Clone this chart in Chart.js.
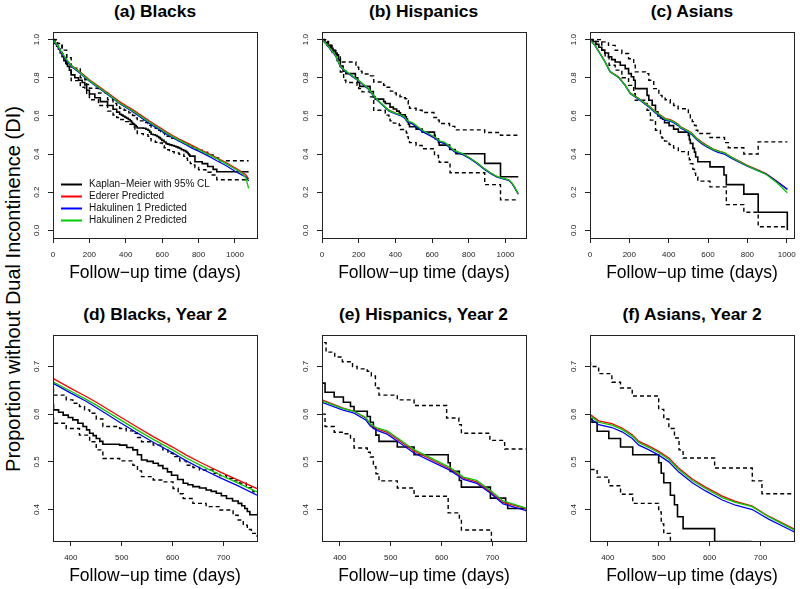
<!DOCTYPE html>
<html><head><meta charset="utf-8">
<script src="https://cdn.jsdelivr.net/npm/chart.js@4/dist/chart.umd.min.js"></script>
<style>
html,body{margin:0;padding:0;background:#fff;width:800px;height:589px;overflow:hidden;font-family:"Liberation Sans",Arial,sans-serif;}
canvas{position:absolute;}
.ttl{position:absolute;font-weight:bold;font-size:17.4px;white-space:nowrap;transform:translate(-50%,-50%);line-height:1;color:#000;}
#ylab{position:absolute;left:12.5px;top:289px;font-size:20px;white-space:nowrap;transform:translate(-50%,-50%) rotate(-90deg);line-height:1;color:#000;}
</style></head><body>
<div id="ylab">Proportion without Dual Incontinence (DI)</div>
<script>
const FONT = '"Liberation Sans", Arial, sans-serif';

// ---- tick labels ----
const xTicksFull = [0, 200, 400, 600, 800, 1000];
const xTicksYear2 = [400, 500, 600, 700];
const yTicksFull = [0.0, 0.2, 0.4, 0.6, 0.8, 1.0];
const yTicksYear2 = [0.4, 0.5, 0.6, 0.7];

const panelTitles = ["(a) Blacks", "(b) Hispanics", "(c) Asians",
                     "(d) Blacks, Year 2", "(e) Hispanics, Year 2", "(f) Asians, Year 2"];
const legendLabels = ["Kaplan\u2212Meier with 95% CL", "Ederer Predicted", "Hakulinen 1 Predicted", "Hakulinen 2 Predicted"];
const xTitle = "Follow\u2212up time (days)";

// ---- Blacks ----
const blkKM = [[0,1.0],[10,0.98],[20,0.965],[30,0.95],[40,0.93],[50,0.91],[60,0.89],[70,0.875],[80,0.86],[90,0.84],[100,0.815],[120,0.80],[140,0.787],[160,0.775],[175,0.762],[185,0.735],[200,0.715],[230,0.695],[260,0.675],[300,0.655],[330,0.635],[350,0.62],[366,0.609],[376,0.604],[385,0.598],[395,0.593],[404,0.588],[414,0.581],[424,0.574],[431,0.567],[437,0.56],[444,0.555],[450,0.549],[457,0.543],[463,0.537],[496,0.535],[510,0.53],[522,0.525],[531,0.515],[539,0.504],[550,0.501],[562,0.497],[572,0.492],[581,0.486],[590,0.479],[598,0.472],[610,0.463],[621,0.455],[630,0.452],[640,0.448],[653,0.445],[666,0.441],[676,0.438],[686,0.434],[696,0.429],[706,0.423],[718,0.418],[729,0.413],[736,0.408],[742,0.402],[747,0.396],[752,0.389],[780,0.36],[820,0.35],[850,0.335],[880,0.32],[900,0.307],[1075,0.307]];
const blkUp = [[0,1.0],[25,0.98],[50,0.945],[75,0.905],[100,0.85],[150,0.80],[175,0.79],[185,0.765],[200,0.745],[250,0.72],[300,0.685],[330,0.665],[350,0.652],[366,0.64],[391,0.63],[404,0.623],[417,0.616],[427,0.609],[437,0.602],[450,0.59],[463,0.574],[496,0.57],[509,0.565],[522,0.56],[531,0.551],[539,0.542],[562,0.535],[581,0.525],[591,0.518],[601,0.511],[614,0.502],[627,0.493],[640,0.488],[653,0.483],[680,0.476],[693,0.471],[706,0.465],[719,0.46],[732,0.455],[745,0.446],[758,0.437],[790,0.42],[820,0.41],[850,0.395],[880,0.38],[910,0.365],[1075,0.365]];
const blkLo = [[0,1.0],[25,0.97],[50,0.925],[75,0.87],[100,0.785],[150,0.75],[175,0.735],[185,0.71],[200,0.685],[250,0.655],[300,0.625],[330,0.605],[350,0.592],[366,0.581],[391,0.57],[417,0.556],[437,0.542],[450,0.525],[463,0.507],[496,0.502],[522,0.493],[531,0.481],[539,0.469],[562,0.462],[581,0.458],[601,0.444],[611,0.433],[621,0.423],[640,0.413],[666,0.406],[693,0.399],[719,0.388],[729,0.378],[739,0.367],[747,0.358],[755,0.35],[766,0.343],[780,0.33],[800,0.318],[840,0.305],[870,0.29],[900,0.265],[1075,0.265]];
const blkT    = [0,25,50,75,100,150,200,250,300,365,400,430,450,496,530,562,600,627,660,693,730,766,800,850,900,950,1000,1040,1060,1075];
const blkEder = [1.0,0.965,0.925,0.893,0.866,0.83,0.79,0.756,0.722,0.675,0.654,0.637,0.625,0.595,0.573,0.553,0.531,0.514,0.496,0.479,0.461,0.444,0.428,0.405,0.38,0.355,0.328,0.305,0.29,0.27];
const blkHak1 = [1.0,0.965,0.925,0.89,0.86,0.822,0.782,0.746,0.712,0.665,0.644,0.627,0.614,0.583,0.561,0.541,0.519,0.502,0.484,0.467,0.449,0.43,0.415,0.392,0.365,0.34,0.31,0.29,0.28,0.26];
const blkHak2 = [1.0,0.968,0.93,0.895,0.864,0.826,0.785,0.75,0.716,0.668,0.648,0.631,0.619,0.589,0.567,0.547,0.525,0.508,0.49,0.473,0.455,0.437,0.423,0.400,0.376,0.35,0.322,0.298,0.275,0.22];

// ---- Hispanics ----
const hisKM = [[0,1.0],[15,0.985],[30,0.97],[45,0.955],[60,0.94],[75,0.92],[90,0.895],[100,0.862],[115,0.835],[130,0.822],[182,0.80],[195,0.775],[205,0.755],[262,0.728],[280,0.70],[290,0.688],[336,0.675],[345,0.665],[371,0.646],[389,0.636],[407,0.625],[421,0.616],[428,0.606],[454,0.595],[460,0.583],[466,0.57],[471,0.556],[477,0.543],[513,0.531],[546,0.515],[613,0.498],[617,0.48],[635,0.461],[639,0.447],[696,0.424],[726,0.414],[730,0.402],[887,0.351],[973,0.281],[1070,0.281]];
const hisUp = [[0,1.0],[20,0.99],[36,0.98],[50,0.96],[64,0.944],[82,0.918],[100,0.883],[185,0.855],[200,0.835],[218,0.82],[264,0.81],[282,0.778],[336,0.761],[355,0.75],[373,0.73],[390,0.72],[405,0.71],[425,0.70],[434,0.695],[454,0.69],[462,0.68],[470,0.655],[477,0.64],[513,0.63],[546,0.618],[610,0.592],[634,0.578],[639,0.56],[695,0.545],[724,0.527],[887,0.513],[973,0.499],[1070,0.499]];
const hisLo = [[0,1.0],[27,0.97],[55,0.935],[82,0.89],[100,0.83],[118,0.787],[130,0.775],[191,0.76],[200,0.743],[218,0.726],[264,0.70],[282,0.63],[345,0.615],[355,0.604],[365,0.60],[371,0.574],[389,0.562],[407,0.559],[421,0.55],[428,0.529],[454,0.52],[460,0.51],[466,0.49],[471,0.475],[477,0.46],[513,0.445],[546,0.428],[613,0.393],[635,0.379],[639,0.357],[698,0.302],[887,0.24],[973,0.16],[1070,0.16]];
const hisT    = [0,25,50,75,100,125,150,200,250,300,340,365,405,428,451,460,473,493,519,545,578,617,643,669,695,721,763,809,850,882,920,955,1018,1036,1050,1070];
const hisEder = [1.0,0.975,0.945,0.915,0.86,0.837,0.82,0.785,0.745,0.685,0.65,0.63,0.613,0.606,0.592,0.578,0.569,0.562,0.543,0.523,0.506,0.485,0.466,0.458,0.438,0.415,0.403,0.377,0.35,0.325,0.30,0.281,0.264,0.246,0.225,0.19];
const hisHak1 = [1.0,0.975,0.944,0.914,0.859,0.835,0.818,0.783,0.743,0.683,0.648,0.625,0.609,0.602,0.588,0.575,0.566,0.558,0.539,0.519,0.502,0.482,0.463,0.455,0.435,0.412,0.399,0.374,0.347,0.322,0.297,0.279,0.262,0.245,0.224,0.19];
const hisHak2 = [1.0,0.976,0.946,0.916,0.861,0.838,0.821,0.786,0.746,0.686,0.651,0.628,0.612,0.606,0.593,0.58,0.571,0.565,0.546,0.526,0.509,0.488,0.468,0.461,0.441,0.418,0.404,0.378,0.351,0.326,0.301,0.282,0.265,0.248,0.227,0.19];

// ---- Asians ----
const asiKM = [[0,1.0],[15,0.99],[30,0.975],[45,0.96],[60,0.945],[75,0.93],[94,0.91],[110,0.895],[128,0.883],[154,0.866],[179,0.848],[196,0.822],[210,0.805],[222,0.787],[230,0.743],[290,0.708],[299,0.682],[316,0.656],[333,0.621],[345,0.60],[358,0.59],[369,0.583],[379,0.564],[402,0.549],[425,0.531],[449,0.515],[500,0.498],[505,0.476],[510,0.456],[523,0.43],[531,0.41],[537,0.385],[548,0.36],[610,0.333],[681,0.29],[693,0.24],[782,0.19],[855,0.095],[1003,0.0]];
const asiUp = [[0,1.0],[60,0.988],[94,0.97],[128,0.944],[162,0.927],[196,0.90],[222,0.866],[230,0.831],[282,0.822],[299,0.787],[324,0.743],[350,0.708],[366,0.70],[382,0.685],[408,0.667],[425,0.655],[448,0.638],[500,0.61],[510,0.59],[520,0.57],[531,0.55],[540,0.525],[548,0.508],[610,0.487],[684,0.46],[703,0.433],[782,0.40],[855,0.464],[1003,0.464]];
const asiLo = [[0,1.0],[26,0.99],[60,0.944],[77,0.909],[97,0.866],[128,0.84],[162,0.80],[196,0.76],[222,0.717],[230,0.682],[282,0.665],[290,0.63],[307,0.578],[333,0.525],[358,0.49],[366,0.484],[379,0.468],[402,0.45],[425,0.432],[449,0.413],[500,0.395],[505,0.37],[510,0.35],[523,0.32],[531,0.30],[537,0.28],[548,0.258],[610,0.228],[693,0.135],[782,0.095],[855,0.019],[1003,0.019]];
const asiT    = [0,26,51,77,102,145,179,205,247,299,333,365,382,408,428,448,461,481,500,520,539,566,592,625,651,684,716,761,797,850,896,950,1003];
const asiEder = [1.0,0.97,0.928,0.884,0.833,0.805,0.762,0.72,0.693,0.653,0.623,0.60,0.586,0.58,0.571,0.557,0.543,0.533,0.522,0.508,0.487,0.464,0.447,0.428,0.417,0.407,0.386,0.362,0.342,0.318,0.296,0.258,0.215];
const asiHak1 = [1.0,0.969,0.926,0.882,0.831,0.802,0.759,0.716,0.688,0.647,0.616,0.592,0.578,0.572,0.563,0.549,0.535,0.525,0.514,0.5,0.479,0.456,0.439,0.42,0.409,0.4,0.38,0.356,0.338,0.315,0.295,0.256,0.215];
const asiHak2 = [1.0,0.969,0.926,0.882,0.831,0.803,0.76,0.718,0.691,0.651,0.621,0.597,0.583,0.577,0.568,0.554,0.54,0.53,0.519,0.505,0.484,0.461,0.444,0.425,0.415,0.406,0.385,0.36,0.34,0.315,0.293,0.25,0.197];

const COLORS = {km:'#000000', eder:'#FF0000', hak1:'#0000FF', hak2:'#00CD00'};

function pairs(arr){ return arr.map(p => ({x:p[0], y:p[1]})); }
function zipXY(t, v){ return t.map((x,i) => ({x:x, y:v[i]})); }

const boxPlugin = {
  id:'box',
  afterDraw(chart){
    const {ctx, chartArea:a} = chart;
    ctx.save();
    ctx.strokeStyle = '#222'; ctx.lineWidth = 1;
    ctx.strokeRect(Math.round(a.left)+0.5, Math.round(a.top)+0.5, Math.round(a.right-a.left), Math.round(a.bottom-a.top));
    ctx.restore();
  }
};
const legendPlugin = {
  id:'innerLegend',
  afterDraw(chart, args, opts){
    if (!opts.show) return;
    const {ctx, chartArea:a} = chart;
    const cols = [COLORS.km, COLORS.eder, COLORS.hak1, COLORS.hak2];
    ctx.save();
    ctx.font = '10px ' + FONT;
    ctx.textBaseline = 'middle';
    ctx.textAlign = 'left';
    legendLabels.forEach((lab, i) => {
      const y = Math.round(a.top + 152.3 + 12*i) + 0.5;
      ctx.strokeStyle = cols[i]; ctx.lineWidth = 2;
      ctx.beginPath(); ctx.moveTo(a.left + 8, y); ctx.lineTo(a.left + 29, y); ctx.stroke();
      ctx.fillStyle = '#111';
      ctx.fillText(lab, a.left + 36, y);
    });
    ctx.restore();
  }
};

function panel(idx, L, T, xr, yr, xTicks, yTicks, group, showLegend){
  const c = document.createElement('canvas');
  c.width = 255; c.height = 257;
  c.style.left = (L - 45) + 'px'; c.style.top = (T - 1) + 'px';
  document.body.appendChild(c);
  const t = document.createElement('div');
  t.className = 'ttl'; t.textContent = panelTitles[idx];
  t.style.left = (L + 102) + 'px'; t.style.top = (T - 20) + 'px';
  document.body.appendChild(t);

  const ds = [
    {data: zipXY(group.t, group.hak2), borderColor: COLORS.hak2, borderWidth: 1.3, order: 0},
    {data: zipXY(group.t, group.hak1), borderColor: COLORS.hak1, borderWidth: 1.3, order: 1},
    {data: zipXY(group.t, group.eder), borderColor: COLORS.eder, borderWidth: 1.3, order: 2},
    {data: pairs(group.up), borderColor: COLORS.km, borderWidth: 1.4, borderDash: [4,3], stepped: true, order: 3},
    {data: pairs(group.lo), borderColor: COLORS.km, borderWidth: 1.4, borderDash: [4,3], stepped: true, order: 3},
    {data: pairs(group.km), borderColor: COLORS.km, borderWidth: 1.6, stepped: true, order: 4}
  ];
  const gridOpts = {display:true, drawOnChartArea:false, drawTicks:true, tickLength:5, color:'#222', lineWidth:1};
  new Chart(c, {
    type:'line',
    data:{datasets: ds},
    options:{
      responsive:false, animation:false, devicePixelRatio:1,
      parsing:false, normalized:true,
      layout:{padding:{left:0, right:6, top:1, bottom:0}},
      elements:{point:{radius:0, hoverRadius:0}, line:{tension:0, fill:false}},
      events:[],
      plugins:{legend:{display:false}, tooltip:{enabled:false}, title:{display:false},
               innerLegend:{show: showLegend}},
      scales:{
        x:{type:'linear', min:xr[0], max:xr[1],
          afterBuildTicks: s => { s.ticks = xTicks.map(v => ({value:v})); },
          afterFit: s => { s.height = 50; s.paddingLeft = 0; s.paddingRight = 0; s.paddingTop = 0; s.paddingBottom = 0; },
          grid: gridOpts, border:{display:false},
          ticks:{font:{size:8, family:FONT}, color:'#222', padding:7, minRotation:0, maxRotation:0, autoSkip:false,
                 callback: v => String(v)},
          title:{display:true, text:xTitle, color:'#000', font:{size:17.5, family:FONT}, padding:{top:0, bottom:4}}
        },
        y:{type:'linear', min:yr[0], max:yr[1],
          afterBuildTicks: s => { s.ticks = yTicks.map(v => ({value:v})); },
          afterFit: s => { s.width = 45; s.paddingLeft = 0; s.paddingRight = 0; s.paddingTop = 0; s.paddingBottom = 0; },
          grid: gridOpts, border:{display:false},
          ticks:{font:{size:8, family:FONT}, color:'#222', padding:6, minRotation:90, maxRotation:90, crossAlign:'center', autoSkip:false,
                 callback: v => Number(v).toFixed(1)}
        }
      }
    },
    plugins:[boxPlugin, legendPlugin]
  });
}

const blacks = {km:blkKM, up:blkUp, lo:blkLo, t:blkT, eder:blkEder, hak1:blkHak1, hak2:blkHak2};
const hisp   = {km:hisKM, up:hisUp, lo:hisLo, t:hisT, eder:hisEder, hak1:hisHak1, hak2:hisHak2};
const asian  = {km:asiKM, up:asiUp, lo:asiLo, t:asiT, eder:asiEder, hak1:asiHak1, hak2:asiHak2};

const yFull = [-0.04, 1.04], yY2 = [0.334, 0.766], xY2 = [365, 766];
panel(0, 53, 32, [0, 1121], yFull, xTicksFull, yTicksFull, blacks, true);
panel(1, 321.5, 32, [0, 1112], yFull, xTicksFull, yTicksFull, hisp, false);
panel(2, 590, 32, [0, 1037], yFull, xTicksFull, yTicksFull, asian, false);
panel(3, 53, 335, xY2, yY2, xTicksYear2, yTicksYear2, blacks, false);
panel(4, 321.5, 335, xY2, yY2, xTicksYear2, yTicksYear2, hisp, false);
panel(5, 590, 335, xY2, yY2, xTicksYear2, yTicksYear2, asian, false);
</script>
</body></html>
